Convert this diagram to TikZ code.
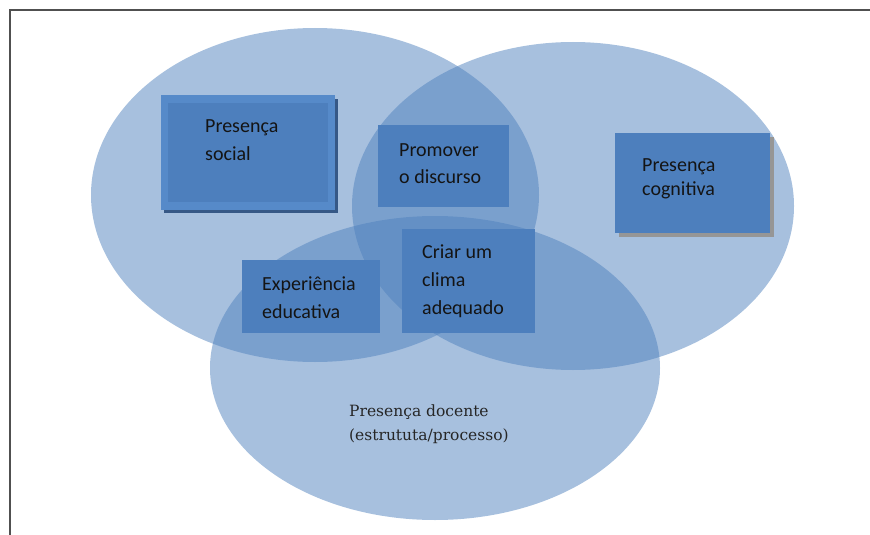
\documentclass[tikz,border=0pt]{standalone}
\usepackage{fontspec}
\setmainfont{Carlito}
\newfontfamily\docenteFont{DejaVu Serif}
\usepackage{tikz}
\usetikzlibrary{positioning}
\definecolor{vennColor}{RGB}{79,129,189}
\definecolor{boxColor}{RGB}{77,127,189}
\definecolor{boxLight}{RGB}{86,138,201}
\definecolor{boxShadow}{RGB}{54,88,134}
\definecolor{greyShadow}{RGB}{150,150,150}
\definecolor{frameColor}{RGB}{80,80,80}
\tikzstyle{diagram} = [x = 1pt, y = -1pt]
\tikzstyle{vennStyle} = [fill=vennColor, fill opacity=0.5]
\tikzstyle{boxStyle} = [fill=boxColor, draw=none, inner sep=0pt, anchor=north west]
\tikzstyle{boxText} = [font=\fontsize{20}{28}\selectfont, align=left, anchor=base west, inner sep=0pt, text=black!92]
\tikzstyle{docenteText} = [font=\docenteFont\fontsize{15.5}{24}\selectfont, align=left, anchor=base west, inner sep=0pt, text=black!85]
\tikzstyle{frameLine} = [color=frameColor, line width=1.5pt]
\newcommand{\vennEllipse}[4]{\fill [vennStyle] (#1,#2) ellipse [x radius=#3pt, y radius=#4pt];}
\newcommand{\plainBox}[5]{\node [boxStyle, minimum width=#4pt, minimum height=#5pt] (#1) at (#2,#3) {};}
% label: the shift goes to the baseline of the last line
\newcommand{\boxLabel}[5]{\node [boxText] (#1) at ([shift={(#3,#4)}]#2.north west) {#5};}

\begin{document}
\begin{tikzpicture}[diagram]
        \useasboundingbox (0,0) rectangle (870,535);
        \draw [frameLine] (870,10) -- (10,10) -- (10,535);

        \vennEllipse{315}{195}{224}{167}
        \vennEllipse{573}{206}{221}{164}
        \vennEllipse{435}{368}{225}{152}

        % presenca social, with bevel
        \fill [boxShadow] (164,99) rectangle (338,213);
        \node [boxStyle, fill=boxLight, minimum width=174pt, minimum height=115pt] (social) at (161,95) {};
        \fill [boxColor] (168,103) rectangle (328,202);
        \boxLabel{socialText}{social}{44}{65}{Presença\\social}

        % presenca cognitiva, grey shadow
        \fill [greyShadow] (619,137) rectangle (774,237);
        \plainBox{cognitiva}{615}{133}{155}{100}
        \boxLabel{cognitivaText}{cognitiva}{27}{62}{Presença\\[-4pt]cognitiva}

        \plainBox{discurso}{378}{125}{131}{82}
        \boxLabel{discursoText}{discurso}{21}{58}{Promover\\[-1pt]o discurso}

        \plainBox{experiencia}{242}{260}{138}{73}
        \boxLabel{experienciaText}{experiencia}{20}{58}{Experiência\\educativa}

        \plainBox{clima}{402}{229}{133}{104}
        \boxLabel{climaText}{clima}{20}{85}{Criar um\\clima\\adequado}

        \node [docenteText] (docente) at (349,440) {Presença docente\\(estrututa/processo)};
      \end{tikzpicture}
\end{document}
